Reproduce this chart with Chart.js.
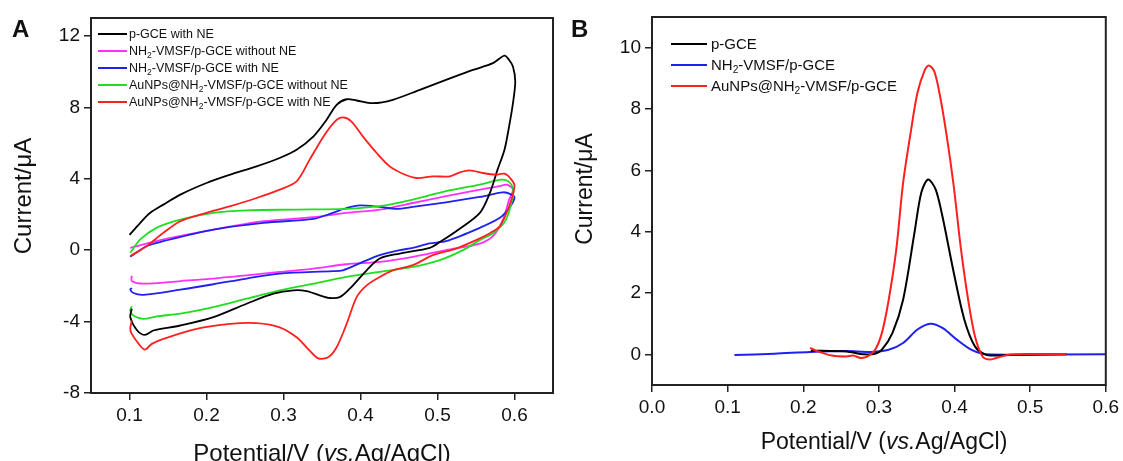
<!DOCTYPE html>
<html>
<head>
<meta charset="utf-8">
<script src="https://cdn.jsdelivr.net/npm/chart.js@4.4.0/dist/chart.umd.min.js"></script>
<style>
  html, body { margin: 0; padding: 0; background: #fff; }
  #wrap { position: relative; width: 1123px; height: 461px; overflow: hidden;
          font-family: "Liberation Sans", Arial, sans-serif; color: #111; }
  canvas { position: absolute; top: 0; }
  .lbl { position: absolute; white-space: nowrap; line-height: 1; }
  .panel { font-weight: bold; font-size: 24px; top: 17px; }
  .ytitle { transform: translate(-50%, -50%) rotate(-90deg); }
  .xtitle { transform: translate(-50%, -50%); }
  .legend { position: absolute; }
  .legend .row { display: flex; align-items: center; white-space: nowrap; }
  .legend .swatch { display: inline-block; }
  sub { font-size: 68%; vertical-align: -0.3em; line-height: 0; }
</style>
</head>
<body>
<div id="wrap">
  <canvas id="cvChart" width="560" height="461" style="left:0"></canvas>
  <canvas id="dpvChart" width="563" height="461" style="left:560px"></canvas>

  <div class="lbl panel" style="left:12px">A</div>
  <div class="lbl panel" style="left:571px">B</div>

  <div class="lbl ytitle" style="left:23px; top:196px; font-size:24px">Current/μA</div>
  <div class="lbl xtitle" style="left:322px; top:453px; font-size:24px">Potential/V (<i>vs.</i>Ag/AgCl)</div>
  <div class="lbl ytitle" style="left:584px; top:189px; font-size:23px">Current/μA</div>
  <div class="lbl xtitle" style="left:884px; top:441px; font-size:23px">Potential/V (<i>vs.</i>Ag/AgCl)</div>

  <div id="cvLegend" class="legend" style="left:98px; top:25px; font-size:12.5px"></div>
  <div id="dpvLegend" class="legend" style="left:671px; top:33px; font-size:15px"></div>
</div>

<script>
// ---- Panel A: cyclic voltammograms (forward 0.1 -> 0.6 V, then back) ----
const cvBlackE = [0.100, 0.114, 0.127, 0.144, 0.166, 0.200, 0.231, 0.265, 0.295, 0.317, 0.339, 0.356, 0.369, 0.382, 0.395, 0.416, 0.442, 0.477, 0.511, 0.546, 0.572, 0.587, 0.593, 0.598, 0.601,
                  0.598, 0.593, 0.587, 0.578, 0.568, 0.555, 0.527, 0.503, 0.490, 0.451, 0.425, 0.408, 0.386, 0.373, 0.360, 0.347, 0.330, 0.313, 0.287, 0.252, 0.209, 0.166, 0.131, 0.120, 0.110, 0.101, 0.103];
const cvBlackI = [0.85, 1.53, 2.09, 2.55, 3.11, 3.76, 4.23, 4.69, 5.16, 5.62, 6.37, 7.30, 8.14, 8.45, 8.38, 8.23, 8.42, 8.98, 9.53, 10.09, 10.47, 10.89, 10.65, 10.28, 9.44,
                  8.23, 6.93, 5.62, 4.51, 3.20, 2.09, 1.14, 0.45, 0.13, -0.19, -0.47, -1.13, -2.16, -2.63, -2.68, -2.53, -2.29, -2.25, -2.44, -3.00, -3.75, -4.22, -4.50, -4.75, -4.50, -3.75, -3.28];

const cvMagentaE = [0.101, 0.144, 0.209, 0.274, 0.339, 0.382, 0.425, 0.468, 0.511, 0.555, 0.581, 0.590, 0.598,
                    0.593, 0.585, 0.572, 0.555, 0.511, 0.468, 0.425, 0.382, 0.339, 0.295, 0.252, 0.209, 0.166, 0.118, 0.103, 0.103];
const cvMagentaI = [0.13, 0.60, 1.15, 1.62, 1.85, 2.09, 2.27, 2.64, 3.02, 3.39, 3.58, 3.67, 3.39,
                    2.83, 1.71, 0.78, 0.37, 0.00, -0.38, -0.66, -0.79, -1.03, -1.22, -1.41, -1.59, -1.73, -1.88, -1.73, -1.44];

const cvBlueE = [0.101, 0.122, 0.144, 0.209, 0.274, 0.339, 0.364, 0.382, 0.399, 0.425, 0.447, 0.468, 0.511, 0.555, 0.585, 0.596, 0.600,
                 0.593, 0.581, 0.555, 0.511, 0.490, 0.468, 0.451, 0.425, 0.403, 0.377, 0.364, 0.295, 0.252, 0.209, 0.166, 0.118, 0.105, 0.101, 0.103];
const cvBlueI = [-0.37, 0.22, 0.50, 1.15, 1.53, 1.75, 2.09, 2.36, 2.51, 2.42, 2.31, 2.42, 2.68, 2.98, 3.24, 3.11, 2.92,
                 2.36, 1.81, 1.25, 0.50, 0.38, 0.13, 0.00, -0.28, -0.66, -1.13, -1.18, -1.31, -1.59, -1.91, -2.21, -2.50, -2.40, -2.21, -2.12];

const cvGreenE = [0.101, 0.114, 0.135, 0.166, 0.209, 0.252, 0.317, 0.382, 0.425, 0.468, 0.511, 0.555, 0.583, 0.592, 0.598,
                  0.598, 0.589, 0.574, 0.555, 0.533, 0.503, 0.468, 0.425, 0.382, 0.339, 0.295, 0.252, 0.209, 0.166, 0.135, 0.118, 0.105, 0.101, 0.103];
const cvGreenI = [-0.15, 0.60, 1.25, 1.71, 2.09, 2.23, 2.27, 2.31, 2.46, 2.83, 3.30, 3.67, 3.95, 3.85, 3.48,
                  3.02, 1.71, 1.00, 0.56, 0.00, -0.56, -0.94, -1.22, -1.50, -1.88, -2.25, -2.72, -3.19, -3.56, -3.71, -3.85, -3.66, -3.38, -3.15];

const cvRedE = [0.101, 0.122, 0.144, 0.166, 0.200, 0.231, 0.265, 0.295, 0.317, 0.334, 0.352, 0.367, 0.377, 0.388, 0.403, 0.421, 0.438, 0.455, 0.473, 0.494, 0.516, 0.529, 0.542, 0.559, 0.576, 0.587, 0.596, 0.600,
                0.593, 0.581, 0.568, 0.555, 0.524, 0.494, 0.468, 0.442, 0.425, 0.408, 0.395, 0.382, 0.369, 0.358, 0.345, 0.334, 0.317, 0.295, 0.265, 0.231, 0.187, 0.144, 0.129, 0.120, 0.112, 0.103, 0.101, 0.103];
const cvRedI = [-0.34, 0.22, 0.97, 1.62, 2.09, 2.46, 2.92, 3.39, 3.85, 5.07, 6.37, 7.21, 7.43, 7.21, 6.37, 5.44, 4.69, 4.28, 4.04, 4.13, 4.13, 4.36, 4.47, 4.32, 4.23, 4.28, 3.95, 3.58,
                2.46, 1.34, 0.95, 0.66, 0.09, -0.28, -0.84, -1.13, -1.50, -1.97, -2.63, -4.13, -5.44, -6.00, -6.06, -5.63, -4.88, -4.32, -4.09, -4.13, -4.41, -4.97, -5.25, -5.57, -5.25, -4.69, -4.41, -3.94];

const cvLabels = ['p-GCE with NE', 'NH<sub>2</sub>-VMSF/p-GCE without NE', 'NH<sub>2</sub>-VMSF/p-GCE with NE',
                  'AuNPs@NH<sub>2</sub>-VMSF/p-GCE without NE', 'AuNPs@NH<sub>2</sub>-VMSF/p-GCE with NE'];
const cvXTicks = [0.1, 0.2, 0.3, 0.4, 0.5, 0.6];
const cvYTicks = [-8, -4, 0, 4, 8, 12];

// ---- Panel B: differential pulse voltammograms ----
const dpvBlackE = [0.210, 0.257, 0.280, 0.295, 0.304, 0.318, 0.332, 0.347, 0.356, 0.365, 0.375, 0.384, 0.399, 0.413, 0.427, 0.441, 0.455, 0.474, 0.548];
const dpvBlackI = [0.12, 0.09, 0.00, 0.02, 0.15, 0.70, 1.78, 3.96, 5.27, 5.70, 5.38, 4.50, 2.66, 1.13, 0.26, -0.01, -0.04, -0.02, 0.00];

const dpvBlueE = [0.109, 0.162, 0.209, 0.257, 0.290, 0.313, 0.332, 0.351, 0.368, 0.384, 0.403, 0.422, 0.437, 0.470, 0.600];
const dpvBlueI = [-0.02, 0.02, 0.08, 0.11, 0.08, 0.15, 0.37, 0.81, 1.00, 0.86, 0.48, 0.15, 0.02, -0.01, 0.00];

const dpvRedE = [0.209, 0.219, 0.238, 0.257, 0.266, 0.276, 0.285, 0.295, 0.304, 0.313, 0.323, 0.332, 0.342, 0.351, 0.361, 0.366, 0.373, 0.380, 0.389, 0.399, 0.408, 0.418, 0.427, 0.437, 0.446, 0.455, 0.470, 0.493, 0.548];
const dpvRedI = [0.21, 0.10, -0.04, -0.07, -0.04, -0.12, -0.07, 0.15, 0.70, 1.78, 3.42, 5.59, 7.23, 8.53, 9.29, 9.42, 9.24, 8.53, 7.23, 5.48, 3.53, 1.78, 0.59, -0.07, -0.17, -0.12, -0.02, 0.01, 0.01];

const dpvLabels = ['p-GCE', 'NH<sub>2</sub>-VMSF/p-GCE', 'AuNPs@NH<sub>2</sub>-VMSF/p-GCE'];
const dpvXTicks = [0.0, 0.1, 0.2, 0.3, 0.4, 0.5, 0.6];
const dpvYTicks = [0, 2, 4, 6, 8, 10];

const FONT = '"Liberation Sans", Arial, sans-serif';
const C = { black: '#000000', magenta: '#ff30ff', blue: '#2020f0', green: '#20dd20', red: '#ff1f1f' };

const pts = (xs, ys) => xs.map((x, i) => ({ x, y: ys[i] }));

// closed box round the plot area
const framePlugin = {
  id: 'frame',
  afterDraw(chart) {
    const { ctx, chartArea: a } = chart;
    ctx.save();
    ctx.strokeStyle = '#222';
    ctx.lineWidth = 2;
    ctx.strokeRect(a.left, a.top, a.right - a.left, a.bottom - a.top);
    ctx.restore();
  }
};

function axis(min, max, ticks, fmt, fit) {
  return {
    type: 'linear', min, max,
    afterBuildTicks: s => { s.ticks = ticks.map(v => ({ value: v })); },
    afterFit: fit,
    grid: { drawOnChartArea: false, color: '#222', lineWidth: 1.5, tickLength: 7 },
    border: { display: false },
    ticks: { color: '#111', font: { family: FONT, size: 19 }, padding: 4, autoSkip: false, maxRotation: 0, callback: fmt }
  };
}

function line(data, color, order, width) {
  return { data, borderColor: color, borderWidth: width, showLine: true, pointRadius: 0, tension: 0.3, order };
}

function makeChart(id, datasets, xAxis, yAxis, padding) {
  return new Chart(document.getElementById(id), {
    type: 'scatter',
    data: { datasets },
    options: {
      responsive: false, devicePixelRatio: 1, animation: false, events: [],
      layout: { padding },
      scales: { x: xAxis, y: yAxis },
      plugins: { legend: { display: false }, tooltip: { enabled: false } }
    },
    plugins: [framePlugin]
  });
}

makeChart('cvChart', [
  line(pts(cvBlackE, cvBlackI), C.black, 1, 1.8),
  line(pts(cvMagentaE, cvMagentaI), C.magenta, 4, 1.8),
  line(pts(cvBlueE, cvBlueI), C.blue, 3, 1.8),
  line(pts(cvGreenE, cvGreenI), C.green, 2, 1.8),
  line(pts(cvRedE, cvRedI), C.red, 0, 1.8)
],
  axis(0.05, 0.65, cvXTicks, v => v.toFixed(1), s => { s.height = 68; }),
  axis(-8, 13, cvYTicks, v => String(v), s => { s.width = 91; }),
  { left: 0, right: 7, top: 18, bottom: 0 });

makeChart('dpvChart', [
  line(pts(dpvBlackE, dpvBlackI), C.black, 1, 2),
  line(pts(dpvBlueE, dpvBlueI), C.blue, 2, 2),
  line(pts(dpvRedE, dpvRedI), C.red, 0, 2)
],
  axis(0, 0.6, dpvXTicks, v => v.toFixed(1), s => { s.height = 76; }),
  axis(-1, 11, dpvYTicks, v => String(v), s => { s.width = 92; }),
  { left: 0, right: 16, top: 17, bottom: 0 });

// legends as html so the subscripts stay real text
function buildLegend(id, labels, colors, rowH, lineW, gap) {
  const box = document.getElementById(id);
  labels.forEach((txt, i) => {
    const row = document.createElement('div');
    row.className = 'row';
    row.style.height = rowH + 'px';
    row.innerHTML = `<span class="swatch" style="width:${lineW}px;height:2px;background:${colors[i]};margin-right:${gap}px"></span><span>${txt}</span>`;
    box.appendChild(row);
  });
}

buildLegend('cvLegend', cvLabels, [C.black, C.magenta, C.blue, C.green, C.red], 17, 29, 2);
buildLegend('dpvLegend', dpvLabels, [C.black, C.blue, C.red], 21, 36, 4);
</script>
</body>
</html>
